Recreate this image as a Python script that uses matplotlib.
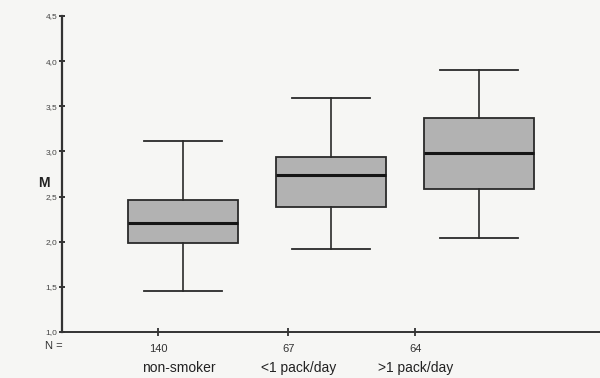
import matplotlib

matplotlib.use("Agg")

import matplotlib.pyplot as plt

# group statistics (M values)
groups = ["non-smoker", "<1 pack/day", ">1 pack/day"]
counts = ["140", "67", "64"]
whislo = [1.45, 1.92, 2.04]
q1 = [1.99, 2.38, 2.58]
med = [2.21, 2.74, 2.98]
q3 = [2.46, 2.94, 3.37]
whishi = [3.12, 3.59, 3.90]

box_pos = [1.0, 2.0, 3.0]
tick_pos = [0.83, 1.71, 2.57]
label_pos = [0.97, 1.78, 2.57]
y_ticks = [1.0, 1.5, 2.0, 2.5, 3.0, 3.5, 4.0, 4.5]

plt.rcParams["font.family"] = ["Liberation Sans", "DejaVu Sans"]

fig = plt.figure(figsize=(6.0, 3.78), dpi=100, facecolor="#f6f6f4")
ax = fig.add_axes([62 / 600, 1 - 332 / 378, 538 / 600, 316 / 378])
ax.set_facecolor("#f6f6f4")

stats = []
for i in range(len(groups)):
    stats.append(
        {"whislo": whislo[i], "q1": q1[i], "med": med[i], "q3": q3[i], "whishi": whishi[i], "fliers": []}
    )

ax.bxp(
    stats,
    positions=box_pos,
    widths=0.74,
    capwidths=0.53,
    patch_artist=True,
    showfliers=False,
    boxprops=dict(facecolor="#b2b2b2", edgecolor="#2a2a2a", linewidth=1.3),
    medianprops=dict(color="#151515", linewidth=2.2),
    whiskerprops=dict(color="#2a2a2a", linewidth=1.2),
    capprops=dict(color="#2a2a2a", linewidth=1.3),
)

ax.set_xlim(0.182, 3.818)
ax.set_ylim(1.0, 4.5)
ax.spines["top"].set_visible(False)
ax.spines["right"].set_visible(False)
ax.spines["left"].set_linewidth(1.6)
ax.spines["bottom"].set_linewidth(1.4)
ax.spines["left"].set_color("#333333")
ax.spines["bottom"].set_color("#333333")

ax.set_yticks(y_ticks)
ax.set_yticklabels([f"{v:.1f}".replace(".", ",") for v in y_ticks], fontsize=6, color="#444444")
ax.tick_params(axis="y", direction="inout", length=5, width=1.4, color="#333333", pad=1)

ax.set_xticks(tick_pos)
ax.set_xticklabels(counts, fontsize=8, color="#333333")
ax.tick_params(axis="x", direction="inout", length=6, width=1.3, color="#333333", pad=6)

for x, name in zip(label_pos, groups):
    ax.text(x, -0.092, name, transform=ax.get_xaxis_transform(), ha="center", va="top",
            fontsize=10, color="#222222")

ax.text(-0.015, -0.03, "N =", transform=ax.transAxes, ha="center", va="top", fontsize=8, color="#333333")
ax.text(-0.033, 0.47, "M", transform=ax.transAxes, ha="center", va="center", fontsize=10,
        fontweight="bold", color="#222222")

fig.savefig("out.png", dpi=100, facecolor=fig.get_facecolor())
